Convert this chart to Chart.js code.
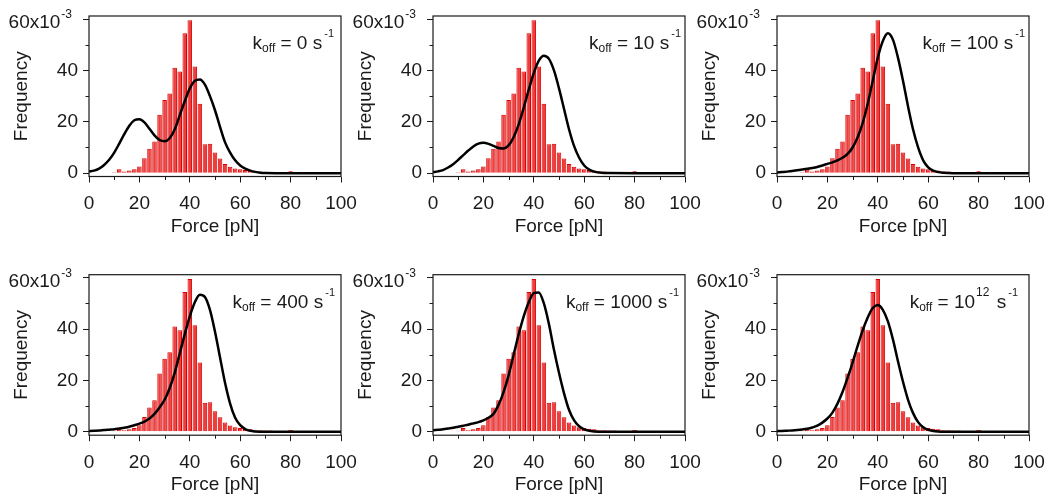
<!DOCTYPE html>
<html>
<head>
<meta charset="utf-8">
<script src="https://cdn.jsdelivr.net/npm/chart.js@4.4.1/dist/chart.umd.min.js"></script>
<style>
  html, body { margin: 0; padding: 0; background: #fff; }
  #wrap { position: relative; width: 1048px; height: 501px; overflow: hidden; }
  #wrap canvas { position: absolute; }
</style>
</head>
<body>
<div id="wrap"></div>
<script>
// axis ticks
const forceTicks = [0, 20, 40, 60, 80, 100];
const forceMinor = [10, 30, 50, 70, 90];
const freqTicks = [0, 20, 40, 60];
const freqMinor = [10, 30, 50];

// measured rupture force histogram (bin centre in pN, frequency x1e-3), same in every panel
const binCenter = [10, 12, 14, 16, 18, 20, 22, 24, 26, 28, 30, 32, 34, 36, 38, 40, 42, 44, 46,
                   48, 50, 52, 54, 56, 58, 60, 62, 64, 66, 68, 70, 72, 74, 76, 78, 80, 82];
const binFreq = [0.4, 1.5, 0.6, 1.0, 1.5, 2.6, 5.8, 9.5, 12.3, 22.7, 28.5, 31.0, 41.0, 39.6, 54.5, 59.5, 41.5, 27.0, 11.3,
                 11.5, 8.0, 5.7, 3.6, 2.5, 1.8, 1.5, 1.2, 1.0, 0.6, 0.6, 0.5, 0.5, 0.3, 0.2, 0.2, 0.7, 0.2];

// model force distributions for each off-rate
const curveForce = [0, 2, 4, 6, 8, 10, 12, 14, 16, 18, 20, 22, 24, 26, 28, 30, 32, 34, 36, 38,
                    40, 42, 44, 46, 48, 50, 52, 54, 56, 58, 60, 62, 64, 66, 68, 70, 80, 90, 100];
const fitK0 = [0.6, 1.0, 1.8, 3.2, 5.2, 8.0, 11.5, 15.2, 18.5, 20.6, 21.0, 19.8, 17.3, 14.7, 12.9, 12.4, 13.6, 17.0, 22.5, 28.0,
               33.0, 36.0, 36.5, 34.5, 30.0, 24.5, 18.0, 12.0, 8.0, 5.0, 3.0, 1.8, 1.0, 0.5, 0.2, 0.1, 0, 0, 0];
const fitK10 = [0.4, 0.7, 1.2, 2.2, 3.5, 5.2, 7.0, 8.8, 10.4, 11.5, 11.8, 11.4, 10.6, 9.8, 9.6, 10.8, 14.0, 19.0, 25.5, 32.5,
                39.0, 43.8, 45.7, 44.5, 40.0, 33.0, 25.0, 17.0, 10.5, 6.0, 3.0, 1.4, 0.6, 0.25, 0.1, 0.05, 0, 0, 0];
const fitK100 = [0.3, 0.45, 0.6, 0.8, 1.1, 1.4, 1.7, 2.0, 2.4, 3.0, 3.6, 4.2, 5.0, 6.0, 7.5, 10.0, 14.0, 19.5, 27.0, 36.0,
                 45.0, 51.5, 54.5, 52.0, 45.0, 36.0, 26.0, 17.0, 10.0, 5.0, 2.3, 1.0, 0.4, 0.15, 0.05, 0, 0, 0, 0];
const fitK400 = [0.3, 0.4, 0.5, 0.7, 0.85, 1.0, 1.3, 1.6, 2.0, 2.6, 3.2, 4.0, 5.2, 7.0, 9.5, 12.5, 17.0, 23.0, 30.5, 38.0,
                 45.0, 50.5, 53.4, 52.5, 47.5, 39.0, 29.0, 19.0, 11.0, 5.5, 2.6, 1.1, 0.4, 0.15, 0.05, 0, 0, 0, 0];
const fitK1000 = [0.6, 0.8, 1.0, 1.3, 1.6, 2.0, 2.4, 2.8, 3.3, 3.8, 4.5, 5.5, 7.0, 10.5, 15.5, 22.0, 30.0, 38.0, 45.0, 50.5,
                  54.0, 54.3, 50.0, 42.0, 32.0, 23.0, 15.0, 8.5, 4.5, 2.2, 1.0, 0.4, 0.15, 0.05, 0, 0, 0, 0, 0];
const fitK1e12 = [0.3, 0.35, 0.45, 0.55, 0.7, 0.9, 1.2, 1.7, 2.4, 3.6, 5.2, 7.5, 11.0, 15.5, 21.0, 27.0, 33.5, 39.5, 44.5, 48.2,
                  49.4, 47.5, 43.0, 36.0, 27.5, 19.5, 12.5, 7.3, 3.8, 1.8, 0.8, 0.35, 0.15, 0.05, 0, 0, 0, 0, 0];

// k_off labels: mantissa text and optional exponent
const koffBase = ['0', '10', '100', '400', '1000', '10'];
const koffExp = ['', '', '', '', '', '12'];
const fits = [fitK0, fitK10, fitK100, fitK400, fitK1000, fitK1e12];

const FONT = "'Liberation Sans', Arial, sans-serif";
const INK = '#1a1a1a';
const FS = 19;

const cols = [0, 344, 688];
const rows = [
  { top: 0, h: 250, areaTop: 16, areaBottom: 176.5, titlePad: 12.1 },
  { top: 250, h: 251, areaTop: 24.7, areaBottom: 185.2, titlePad: 4.4 }
];
const CW = 360, AREA_LEFT = 89, AREA_W = 252;
// gap between the k_off label and the right frame, per panel
const labelInset = [7, 4, 4, 6, 6, 11];

function drawText(ctx, text, x, y, size, align) {
  ctx.font = size + 'px ' + FONT;
  ctx.textAlign = align || 'left';
  ctx.fillText(text, x, y);
  return ctx.measureText(text).width;
}

const panelDecor = {
  id: 'panelDecor',
  afterDraw(chart, args, opts) {
    const { ctx, chartArea: a } = chart;
    const xs = chart.scales.x, ys = chart.scales.y;
    ctx.save();
    ctx.strokeStyle = INK;
    ctx.fillStyle = INK;

    // frame
    ctx.lineWidth = 1.2;
    ctx.strokeRect(a.left, a.top, a.right - a.left, a.bottom - a.top);

    // minor ticks
    ctx.lineWidth = 1;
    ctx.beginPath();
    freqMinor.forEach(v => {
      const y = Math.round(ys.getPixelForValue(v)) + 0.5;
      ctx.moveTo(a.left, y); ctx.lineTo(a.left - 3.5, y);
    });
    forceMinor.forEach(v => {
      const x = Math.round(xs.getPixelForValue(v)) + 0.5;
      ctx.moveTo(x, a.bottom); ctx.lineTo(x, a.bottom + 3.5);
    });
    ctx.stroke();

    // top tick label with its scale factor
    const y60 = ys.getPixelForValue(60);
    ctx.textBaseline = 'middle';
    const supW = drawText(ctx, '-3', a.left - 17, y60 - 4.5, 12, 'right');
    drawText(ctx, '60x10', a.left - 17 - supW - 1, y60 + 4, FS, 'right');

    // k_off label, right aligned near the top right corner
    const base = koffBase[opts.index], exp = koffExp[opts.index];
    const parts = [
      { t: 'k', s: FS, dy: 0 },
      { t: 'off', s: 12, dy: 3 },
      { t: ' = ' + base, s: FS, dy: 0 }
    ];
    if (exp) parts.push({ t: exp, s: 12, dy: -12, gap: 1 });
    parts.push({ t: ' s', s: FS, dy: 0, gap: exp ? 2 : 0 });
    parts.push({ t: '-1', s: 11, dy: -12, gap: 2 });
    ctx.textBaseline = 'alphabetic';
    let total = 0;
    parts.forEach(p => {
      ctx.font = p.s + 'px ' + FONT;
      total += ctx.measureText(p.t).width + (p.gap || 0);
    });
    let x = a.right - labelInset[opts.index] - total;
    const yb = a.top + 32.8;
    parts.forEach(p => {
      x += p.gap || 0;
      x += drawText(ctx, p.t, x, yb + p.dy, p.s, 'left');
    });
    ctx.restore();
  }
};

function makePanel(i) {
  const row = rows[Math.floor(i / 3)];
  const left = cols[i % 3];
  const canvas = document.createElement('canvas');
  canvas.width = CW;
  canvas.height = row.h;
  canvas.style.left = left + 'px';
  canvas.style.top = row.top + 'px';
  document.getElementById('wrap').appendChild(canvas);

  const tickFont = { family: FONT, size: FS };
  const xBottom = row.h - row.areaBottom;

  return new Chart(canvas.getContext('2d'), {
    data: {
      datasets: [
        {
          type: 'line',
          data: curveForce.map((f, k) => ({ x: f, y: fits[i][k] })),
          borderColor: '#000',
          borderWidth: 2.5,
          pointRadius: 0,
          cubicInterpolationMode: 'monotone',
          fill: false
        },
        {
          type: 'bar',
          data: binCenter.map((f, k) => ({ x: f, y: binFreq[k] })),
          backgroundColor: '#ee3d3d',
          borderColor: '#d80000',
          borderWidth: 1,
          barPercentage: 0.9,
          categoryPercentage: 1
        }
      ]
    },
    options: {
      responsive: false,
      animation: false,
      devicePixelRatio: 1,
      layout: { padding: { left: 0, top: row.areaTop, right: CW - AREA_LEFT - AREA_W, bottom: 0 } },
      plugins: { legend: { display: false }, tooltip: { enabled: false }, panelDecor: { index: i } },
      scales: {
        x: {
          type: 'linear',
          min: 0,
          max: 100,
          offset: false,
          afterBuildTicks: s => { s.ticks = forceTicks.map(v => ({ value: v })); },
          afterFit: s => { s.height = xBottom; s.paddingLeft = 0; s.paddingRight = 0; },
          grid: { offset: false, drawOnChartArea: false, drawTicks: true, tickLength: 6, color: INK },
          border: { display: false },
          ticks: { font: tickFont, color: INK, padding: 10, maxRotation: 0 },
          title: { display: true, text: 'Force [pN]', font: tickFont, color: INK, padding: { bottom: row.titlePad } }
        },
        y: {
          type: 'linear',
          min: -1.3,
          max: 61.2,
          afterBuildTicks: s => { s.ticks = freqTicks.map(v => ({ value: v })); },
          afterFit: s => { s.width = AREA_LEFT; s.paddingTop = 0; s.paddingBottom = 0; },
          grid: { drawOnChartArea: false, drawTicks: true, tickLength: 6, color: INK },
          border: { display: false },
          ticks: { font: tickFont, color: INK, padding: 5, callback: v => (v === 60 ? '' : String(v)) },
          title: { display: true, text: 'Frequency', font: tickFont, color: INK, padding: { top: 10 } }
        }
      }
    },
    plugins: [panelDecor]
  });
}

for (let i = 0; i < 6; i++) makePanel(i);
</script>
</body>
</html>
